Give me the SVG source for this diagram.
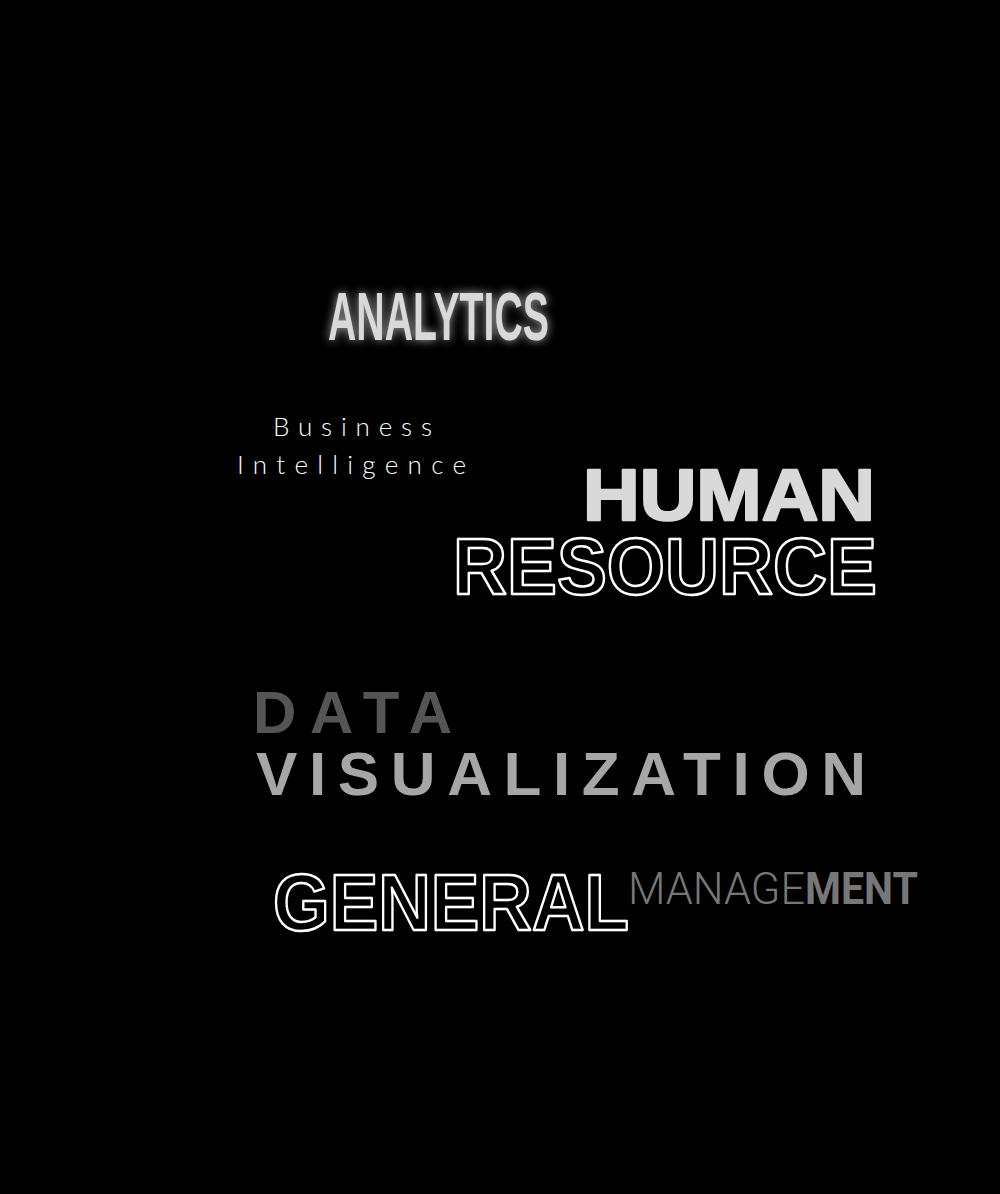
<svg xmlns="http://www.w3.org/2000/svg" width="1000" height="1194" viewBox="0 0 1000 1194">
<defs>
<filter id="glow" x="-20%" y="-50%" width="140%" height="200%">
<feGaussianBlur in="SourceGraphic" stdDeviation="5" result="b"/>
<feComponentTransfer in="b" result="b2"><feFuncA type="linear" slope="0.8"/></feComponentTransfer>
<feMerge><feMergeNode in="b2"/><feMergeNode in="SourceGraphic"/></feMerge>
</filter>
<style>
.analytics{font-family:"Liberation Sans","DejaVu Sans",sans-serif;font-weight:700;font-size:68px;fill:#d9d9d9}
.bi{font-family:Lato,"Open Sans",sans-serif;font-weight:300;font-size:26px;fill:#ffffff}
.heavy{font-family:"Liberation Sans","DejaVu Sans",sans-serif;font-weight:900}
.outline{fill:#000;stroke:#fff;stroke-width:2.5;stroke-linejoin:round}
.dv{font-family:"Liberation Sans","DejaVu Sans",sans-serif;font-weight:700}
.mg{font-family:Roboto,"Liberation Sans",sans-serif;font-size:44px;fill:#777777}
</style>
</defs>
<rect width="1000" height="1194" fill="#000"/>
<g id="analytics">
<text class="analytics" x="328" y="340" textLength="221" lengthAdjust="spacingAndGlyphs" filter="url(#glow)">ANALYTICS</text>
</g>
<g id="business-intelligence">
<text class="bi" x="273" y="436" textLength="159" lengthAdjust="spacing">Business</text>
<text class="bi" x="237" y="474" textLength="229" lengthAdjust="spacing">Intelligence</text>
</g>
<g id="human-resource">
<text class="heavy" x="583" y="520" font-size="73" fill="#d9d9d9" stroke="#d9d9d9" stroke-width="2.5" stroke-linejoin="round" textLength="292" lengthAdjust="spacingAndGlyphs">HUMAN</text>
<text class="heavy outline" x="453" y="594" font-size="79" textLength="424" lengthAdjust="spacingAndGlyphs">RESOURCE</text>
</g>
<g id="data-visualization">
<text class="dv" x="253" y="733" font-size="60" fill="#555555" textLength="199" lengthAdjust="spacing">DATA</text>
<text class="dv" x="256" y="795" font-size="62" fill="#a6a6a6" textLength="610" lengthAdjust="spacing">VISUALIZATION</text>
</g>
<g id="general-management">
<text class="heavy outline" x="273" y="930" font-size="80" textLength="356" lengthAdjust="spacingAndGlyphs">GENERAL</text>
<text class="mg" x="628" y="904" font-weight="300" textLength="177" lengthAdjust="spacingAndGlyphs">MANAGE</text>
<text class="mg" x="805" y="904" font-weight="700" textLength="113" lengthAdjust="spacingAndGlyphs">MENT</text>
</g>
</svg>
